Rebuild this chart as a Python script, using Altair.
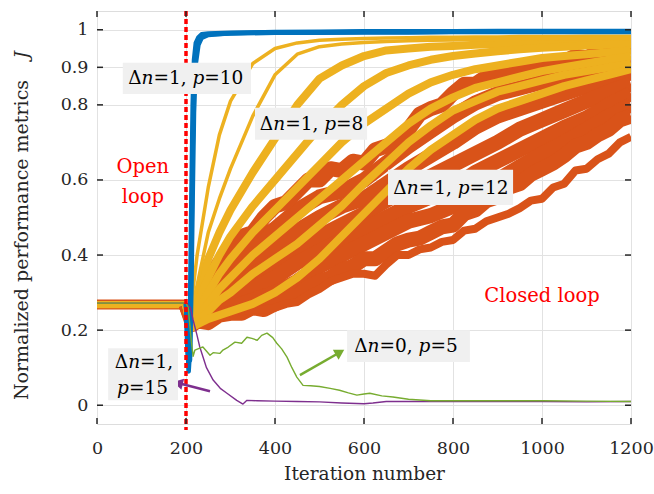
import altair as alt
import pandas as pd

# ---------------- layout ----------------
W, H = 534, 413
PX_PER_IT = W / 1200.0
FONT = "DejaVu Serif"
INK = "#262626"

X_DOMAIN = [0, 1200]
Y_DOMAIN = [-0.05, 1.05]
X_TICKS = [0, 200, 400, 600, 800, 1000, 1200]
Y_TICKS = [0, 0.2, 0.4, 0.6, 0.8, 0.9, 1]

# ---------------- data ----------------
# open-loop phase (iterations 0-200): all runs sit at the same level
OPEN_IT = [0, 200]
OPEN_ORANGE_J = [0.268, 0.268]
OPEN_YELLOW_J1 = [0.265, 0.265]
OPEN_YELLOW_J2 = [0.271, 0.271]

# Δn=1, p=12 (orange runs), closed loop - inner runs
ORANGE_IT = [200, 215, 250, 300, 350, 400, 450, 500, 550, 600, 650, 700, 750, 800, 850, 900, 950, 1000, 1050, 1100, 1150, 1200]
O2 = [0.268, 0.24, 0.30, 0.37, 0.43, 0.47, 0.52, 0.555, 0.57, 0.60, 0.645, 0.69, 0.73, 0.77, 0.805, 0.83, 0.845, 0.86, 0.875, 0.89, 0.905, 0.915]
O3 = [0.268, 0.235, 0.28, 0.33, 0.39, 0.42, 0.465, 0.50, 0.53, 0.55, 0.59, 0.63, 0.665, 0.70, 0.74, 0.77, 0.79, 0.81, 0.83, 0.85, 0.87, 0.885]
O4 = [0.268, 0.23, 0.26, 0.30, 0.35, 0.38, 0.42, 0.45, 0.48, 0.51, 0.545, 0.58, 0.61, 0.64, 0.67, 0.70, 0.735, 0.76, 0.785, 0.81, 0.835, 0.855]
O5 = [0.268, 0.225, 0.245, 0.28, 0.31, 0.34, 0.38, 0.41, 0.44, 0.47, 0.50, 0.53, 0.555, 0.58, 0.62, 0.65, 0.68, 0.71, 0.74, 0.765, 0.80, 0.83]
O6 = [0.268, 0.22, 0.23, 0.26, 0.28, 0.30, 0.33, 0.37, 0.40, 0.43, 0.46, 0.49, 0.505, 0.53, 0.565, 0.60, 0.635, 0.67, 0.70, 0.735, 0.77, 0.80]

# orange edge runs, read more finely
ORANGE_EDGE_IT = [200, 215, 225, 250, 275, 300, 325, 350, 375, 400, 425, 450, 475, 500, 525, 550, 575, 600, 625, 650, 675, 700, 725, 750, 775, 800, 825, 850, 875, 900, 925, 950, 975, 1000, 1025, 1050, 1075, 1100, 1125, 1150, 1175, 1200]
O1 = [0.268, 0.25, 0.27, 0.33, 0.38, 0.41, 0.45, 0.46, 0.50, 0.53, 0.54, 0.57, 0.60, 0.60, 0.63, 0.625, 0.65, 0.645, 0.68, 0.69, 0.70, 0.735, 0.775, 0.79, 0.80, 0.83, 0.855, 0.855, 0.875, 0.875, 0.89, 0.89, 0.905, 0.90, 0.915, 0.915, 0.93, 0.925, 0.94, 0.94, 0.95, 0.945]
O7 = [0.268, 0.215, 0.225, 0.22, 0.24, 0.245, 0.245, 0.26, 0.255, 0.27, 0.29, 0.29, 0.315, 0.33, 0.34, 0.36, 0.37, 0.39, 0.39, 0.41, 0.43, 0.44, 0.445, 0.46, 0.475, 0.48, 0.51, 0.52, 0.545, 0.555, 0.58, 0.59, 0.615, 0.63, 0.645, 0.665, 0.69, 0.70, 0.72, 0.735, 0.76, 0.77]
O8 = [0.268, 0.215, 0.22, 0.23, 0.24, 0.245, 0.25, 0.255, 0.255, 0.26, 0.27, 0.275, 0.295, 0.31, 0.33, 0.34, 0.35, 0.35, 0.345, 0.375, 0.40, 0.40, 0.415, 0.42, 0.435, 0.44, 0.465, 0.47, 0.49, 0.50, 0.51, 0.525, 0.545, 0.55, 0.58, 0.59, 0.625, 0.63, 0.655, 0.67, 0.70, 0.715]

# Δn=1, p=8 (yellow runs), closed loop
YELLOW_IT = [200, 210, 225, 250, 275, 300, 350, 400, 450, 500, 550, 600, 650, 700, 750, 800, 850, 900, 950, 1000, 1050, 1100, 1150, 1200]
Y1 = [0.268, 0.25, 0.40, 0.58, 0.72, 0.81, 0.91, 0.95, 0.965, 0.972, 0.975, 0.977, 0.978, 0.979, 0.98, 0.98, 0.981, 0.981, 0.982, 0.982, 0.982, 0.983, 0.983, 0.983]
Y2 = [0.268, 0.24, 0.32, 0.46, 0.55, 0.63, 0.77, 0.88, 0.935, 0.955, 0.962, 0.966, 0.969, 0.971, 0.972, 0.973, 0.974, 0.975, 0.975, 0.976, 0.977, 0.977, 0.978, 0.978]
Y3 = [0.268, 0.235, 0.29, 0.39, 0.46, 0.52, 0.62, 0.71, 0.80, 0.87, 0.905, 0.93, 0.945, 0.95, 0.955, 0.957, 0.96, 0.962, 0.964, 0.966, 0.967, 0.968, 0.969, 0.97]
Y4 = [0.268, 0.23, 0.27, 0.34, 0.40, 0.45, 0.53, 0.60, 0.67, 0.74, 0.80, 0.85, 0.885, 0.905, 0.92, 0.93, 0.937, 0.943, 0.948, 0.952, 0.955, 0.958, 0.96, 0.962]
Y5 = [0.268, 0.22, 0.25, 0.30, 0.35, 0.39, 0.46, 0.52, 0.58, 0.64, 0.70, 0.75, 0.79, 0.83, 0.86, 0.88, 0.895, 0.905, 0.915, 0.925, 0.93, 0.935, 0.94, 0.945]
Y6 = [0.268, 0.215, 0.235, 0.27, 0.31, 0.34, 0.40, 0.45, 0.50, 0.55, 0.60, 0.65, 0.70, 0.75, 0.79, 0.82, 0.845, 0.86, 0.875, 0.89, 0.90, 0.91, 0.92, 0.93]
Y7 = [0.268, 0.21, 0.225, 0.25, 0.28, 0.30, 0.35, 0.39, 0.43, 0.48, 0.53, 0.59, 0.645, 0.70, 0.745, 0.785, 0.81, 0.835, 0.85, 0.865, 0.88, 0.89, 0.90, 0.91]
Y8 = [0.268, 0.205, 0.215, 0.23, 0.24, 0.25, 0.27, 0.30, 0.34, 0.39, 0.45, 0.51, 0.57, 0.63, 0.68, 0.72, 0.76, 0.79, 0.81, 0.83, 0.85, 0.865, 0.88, 0.895]

# Δn=1, p=10 (blue runs), closed loop
BLUE_IT = [200, 203, 206, 209, 212, 215, 218, 222, 228, 235, 250, 300, 400, 500, 600, 700, 800, 900, 1000, 1100, 1200]
B1 = [0.27, 0.15, 0.10, 0.25, 0.55, 0.80, 0.92, 0.965, 0.98, 0.988, 0.99, 0.992, 0.993, 0.993, 0.994, 0.994, 0.995, 0.995, 0.995, 0.995, 0.995]
B2 = [0.27, 0.18, 0.09, 0.15, 0.40, 0.68, 0.86, 0.94, 0.97, 0.982, 0.988, 0.99, 0.992, 0.992, 0.993, 0.993, 0.994, 0.994, 0.994, 0.994, 0.994]
B3 = [0.27, 0.20, 0.12, 0.12, 0.30, 0.55, 0.78, 0.91, 0.96, 0.978, 0.986, 0.991, 0.994, 0.995, 0.996, 0.996, 0.996, 0.997, 0.997, 0.997, 0.997]

# Δn=1, p=15 (purple)
PURPLE_IT = [0, 200, 210, 216, 224, 231, 246, 261, 277, 292, 314, 328, 337, 360, 400, 450, 500, 550, 600, 620, 650, 700, 800, 900, 1000, 1100, 1200]
PURPLE_J = [0.272, 0.272, 0.26, 0.227, 0.19, 0.155, 0.10, 0.067, 0.045, 0.032, 0.013, 0.003, 0.013, 0.012, 0.011, 0.01, 0.009, 0.006, 0.004, 0.006, 0.01, 0.01, 0.01, 0.01, 0.01, 0.009, 0.01]

# Δn=0, p=5 (green)
GREEN_IT = [0, 200, 205, 212, 216, 220, 231, 238, 254, 261, 276, 283, 295, 310, 325, 337, 348, 360, 370, 382, 395, 404, 415, 427, 438, 449, 463, 480, 500, 524, 545, 565, 584, 600, 613, 640, 665, 700, 750, 800, 900, 1000, 1100, 1200]
GREEN_J = [0.272, 0.272, 0.26, 0.17, 0.13, 0.147, 0.152, 0.155, 0.133, 0.14, 0.138, 0.147, 0.155, 0.168, 0.165, 0.181, 0.178, 0.173, 0.186, 0.192, 0.18, 0.165, 0.15, 0.128, 0.10, 0.075, 0.053, 0.052, 0.05, 0.045, 0.04, 0.033, 0.027, 0.03, 0.032, 0.025, 0.022, 0.016, 0.012, 0.012, 0.012, 0.012, 0.011, 0.01]

# arrows (tail -> head)
GREEN_ARROW_IT = [456, 546]
GREEN_ARROW_J = [0.080, 0.141]
PURPLE_ARROW_IT = [254, 182]
PURPLE_ARROW_J = [0.037, 0.059]

# labels: "|" separates upright / italic parts
LABEL_TEXT = ["Δ|n|=1, |p|=10", "Δ|n|=1, |p|=8", "Δ|n|=1, |p|=12", "Δ|n|=0, |p|=5", "Δ|n|=1,", "|p|=15"]
LABEL_LEFT_IT = [70, 366, 666, 578, 40, 45]
LABEL_J = [0.872, 0.749, 0.579, 0.157, 0.115, 0.045]

BOX_X0 = [58, 355, 654, 562, 25]
BOX_X1 = [346, 607, 935, 838, 182]
BOX_J0 = [0.829, 0.707, 0.533, 0.115, 0.013]
BOX_J1 = [0.912, 0.792, 0.627, 0.200, 0.152]

RED_TEXT = ["Open", "loop", "Closed loop"]
RED_TEXT_IT = [103, 103, 1000]
RED_TEXT_J = [0.619, 0.539, 0.275]

SWITCH_IT = [200]

# ---------------- helpers ----------------
xs = alt.Scale(domain=X_DOMAIN, nice=False, zero=False)
ys = alt.Scale(domain=Y_DOMAIN, nice=False, zero=False)
AX_X = alt.Axis(values=X_TICKS, format="d", title="Iteration number", grid=True,
                gridColor="#e2e2e2", gridWidth=1, ticks=False, domain=False,
                labelFont=FONT, titleFont=FONT, labelFontSize=17.5, titleFontSize=18.5,
                labelColor=INK, titleColor=INK, titleFontWeight="normal",
                labelPadding=15, titlePadding=8, labelFlush=False, labelOverlap=False)
AX_Y = alt.Axis(values=Y_TICKS, format="~g", title=None, grid=True,
                gridColor="#e2e2e2", gridWidth=1, ticks=False, domain=False,
                labelFont=FONT, labelFontSize=17.5, labelColor=INK,
                labelPadding=9, labelFlush=False, labelOverlap=False)


def X(f):
    return alt.X(f, type="quantitative", scale=xs, axis=AX_X)


def Y(f):
    return alt.Y(f, type="quantitative", scale=ys, axis=AX_Y)


def long_df(its, traces):
    rows = []
    for k, vals in enumerate(traces):
        for i, v in zip(its, vals):
            rows.append({"it": i, "J": v, "trace": k})
    return pd.DataFrame(rows)


def lines(df, color, width):
    return alt.Chart(df).mark_line(color=color, strokeWidth=width, clip=True,
                                   strokeJoin="round").encode(
        x=X("it"), y=Y("J"), detail="trace:N", order="it:Q")


open_orange = lines(long_df(OPEN_IT, [OPEN_ORANGE_J]), "#D95319", 10)
open_yellow = lines(long_df(OPEN_IT, [OPEN_YELLOW_J1, OPEN_YELLOW_J2]), "#EDB120", 5)
orange = lines(long_df(ORANGE_IT, [O2, O3, O4, O5, O6]), "#D95319", 15)
orange_edge = lines(long_df(ORANGE_EDGE_IT, [O1, O7]), "#D95319", 15)
orange_low = lines(long_df(ORANGE_EDGE_IT, [O8]), "#D95319", 8)
yellow_thin = lines(long_df(YELLOW_IT, [Y1, Y2]), "#EDB120", 3.5)
yellow = lines(long_df(YELLOW_IT, [Y3, Y4, Y5, Y6, Y7, Y8]), "#EDB120", 8)
blue = lines(long_df(BLUE_IT, [B1, B2, B3]), "#0072BD", 4.5)
purple = lines(long_df(PURPLE_IT, [PURPLE_J]), "#7E2F8E", 1.4)
green = lines(long_df(GREEN_IT, [GREEN_J]), "#77AC30", 1.4)

switch = alt.Chart(pd.DataFrame({"it": SWITCH_IT})).mark_rule(
    color="#FF0000", strokeWidth=3.5, strokeDash=[5, 3]).encode(
    x=X("it"), y=alt.value(0), y2=alt.value(H + 6))


def arrow(its, js, color, angle):
    d = pd.DataFrame({"it": its, "J": js, "trace": [0, 0]})
    shaft = alt.Chart(d).mark_line(color=color, strokeWidth=2.5).encode(
        x=X("it"), y=Y("J"), detail="trace:N")
    head = alt.Chart(d.iloc[[1]]).mark_point(
        shape="triangle-up", filled=True, color=color, size=130, opacity=1,
        angle=angle).encode(x=X("it"), y=Y("J"))
    return shaft + head


green_arrow = arrow(GREEN_ARROW_IT, GREEN_ARROW_J, "#77AC30", 60)
purple_arrow = arrow(PURPLE_ARROW_IT, PURPLE_ARROW_J, "#7E2F8E", 284)

boxes = alt.Chart(pd.DataFrame({"x0": BOX_X0, "x1": BOX_X1, "y0": BOX_J0, "y1": BOX_J1})).mark_rect(
    color="#f0f0f0").encode(x=X("x0"), x2="x1", y=Y("y0"), y2="y1")

# label segments (DejaVu Serif advance widths, in em)
EM = {"Δ": 0.722, "=": 0.838, ",": 0.318, " ": 0.318, "n": 0.644, "p": 0.643}
FS = 18.5
seg_rows = []
for txt, left, jv in zip(LABEL_TEXT, LABEL_LEFT_IT, LABEL_J):
    cum = 0.0
    for k, part in enumerate(txt.split("|")):
        if part:
            seg_rows.append({"it": left + cum * FS / PX_PER_IT, "J": jv, "t": part,
                             "italic": k % 2 == 1})
        cum += sum(EM.get(c, 0.636) for c in part)
seg = pd.DataFrame(seg_rows)


def seg_layer(df, style):
    return alt.Chart(df).mark_text(font=FONT, fontSize=FS, fontStyle=style, color="#000000",
                                   align="left", baseline="middle").encode(
        x=X("it"), y=Y("J"), text="t:N")


txt_norm = seg_layer(seg[~seg["italic"]], "normal")
txt_ital = seg_layer(seg[seg["italic"]], "italic")

red_txt = alt.Chart(pd.DataFrame({"it": RED_TEXT_IT, "J": RED_TEXT_J, "t": RED_TEXT})).mark_text(
    font=FONT, fontSize=19.5, color="#FF0000", align="center", baseline="alphabetic").encode(
    x=X("it"), y=Y("J"), text="t:N")

# y-axis title (with italic J)
ytitle = alt.Chart(pd.DataFrame({"t": ["Normalized performance metrics"]})).mark_text(
    font=FONT, fontSize=19, color=INK, angle=270, align="center", baseline="middle").encode(
    x=alt.value(-75), y=alt.value(229), text="t:N")
ytitle_j = alt.Chart(pd.DataFrame({"t": ["J"]})).mark_text(
    font=FONT, fontSize=19, color=INK, angle=270, align="center", baseline="middle",
    fontStyle="italic").encode(x=alt.value(-75), y=alt.value(44), text="t:N")

# inward ticks on all four sides
xt = pd.DataFrame({"v": X_TICKS})
yt = pd.DataFrame({"v": Y_TICKS})
tk = dict(color=INK, strokeWidth=1.5)
t_bottom = alt.Chart(xt).mark_rule(**tk).encode(x=X("v"), y=alt.value(H), y2=alt.value(H - 6))
t_top = alt.Chart(xt).mark_rule(**tk).encode(x=X("v"), y=alt.value(0), y2=alt.value(6))
t_left = alt.Chart(yt).mark_rule(**tk).encode(y=Y("v"), x=alt.value(0), x2=alt.value(6))
t_right = alt.Chart(yt).mark_rule(**tk).encode(y=Y("v"), x=alt.value(W), x2=alt.value(W - 6))

chart = alt.layer(
    open_orange, open_yellow, orange, orange_edge, orange_low, yellow, yellow_thin, blue,
    purple, green, switch, green_arrow, purple_arrow, boxes, txt_norm, txt_ital, red_txt,
    ytitle, ytitle_j, t_bottom, t_top, t_left, t_right
).properties(
    width=W, height=H,
    autosize=alt.AutoSizeParams(type="none"),
    padding={"left": 97, "top": 11, "right": 23, "bottom": 70},
    background="white",
).configure_view(stroke=INK, strokeWidth=2).configure(font=FONT)

chart.save("out.html", embed_options={"renderer": "svg", "actions": False})
